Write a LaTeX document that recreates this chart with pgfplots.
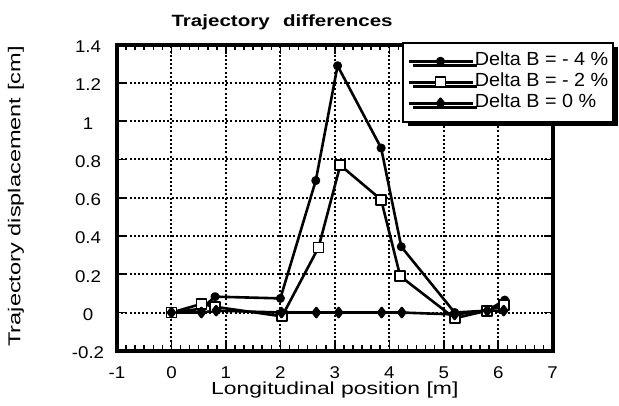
\documentclass[border=0pt]{standalone}
\usepackage{fontspec}
\usepackage{graphicx}
\setmainfont{Liberation Sans}
\newfontfamily\tickfont{Liberation Sans}[FakeStretch=1.1]
\newfontfamily\xlabfont{Liberation Sans}[FakeStretch=1.31]
\newfontfamily\ylabfont{Liberation Sans}[FakeStretch=1.37]
\newfontfamily\legfont{Liberation Sans}[FakeStretch=1.04]
\usepackage{pgfplots}
\pgfplotsset{compat=1.18}
\usetikzlibrary{shadows}
\begin{document}
\begin{tikzpicture}
\begin{axis}[
  at={(0,0)}, anchor=south west,
  scale only axis, width=435.7pt, height=306.1pt,
  xmin=-1, xmax=7, ymin=-0.2, ymax=1.4,
  xtick={-1,0,...,7}, ytick={-0.2,0,0.2,...,1.41},
  minor x tick num=5, minor y tick num=4,
  /pgf/number format/assume math mode=true,
  tick label style={font=\fontsize{17pt}{19pt}\tickfont},
  xticklabel style={anchor=base, yshift=-27.5pt},
  yticklabel style={anchor=center, xshift=-29pt, yshift=-2pt},
  major tick length=9pt, minor tick length=5.5pt,
  every tick/.style={black, line width=1.6pt},
  axis line style={line width=3.8pt},
  grid=major,
  major grid style={black, line width=2pt, dash pattern=on 2pt off 2.2pt},
  xlabel={Longitudinal position [m]},
  xlabel style={font=\fontsize{17.5pt}{20pt}\xlabfont, at={(axis description cs:0.5,-0.142)}, anchor=base},
  ylabel={Trajectory displacement [cm]},
  ylabel style={font=\fontsize{17.2pt}{20pt}\ylabfont, at={(axis description cs:-0.232,0.504)}, anchor=center},
  legend style={
    at={(axis description cs:1.1407,1.0088)}, anchor=north east,
    draw=black, line width=1.5pt, fill=white,
    drop shadow={shadow xshift=4.5pt, shadow yshift=-4.5pt, fill=black, opacity=1},
    inner xsep=4pt, inner ysep=9pt, row sep=2pt,
    font=\fontsize{19pt}{21pt}\legfont,
    nodes={inner xsep=1pt, inner ysep=1pt, text height=13pt, text depth=4pt},
    cells={anchor=west},
  },
  legend image code/.code={\draw[mark repeat=2,mark phase=2,#1] plot coordinates {(0pt,0pt) (32pt,0pt) (64pt,0pt)};},
]
\addplot[black, line width=2.6pt, line join=round, mark=*, mark size=3.2pt] coordinates {
  (0,0) (0.55,0.02) (0.8,0.083) (2.0,0.074) (2.65,0.69) (3.05,1.29) (3.85,0.86) (4.22,0.344) (5.2,0.0) (5.8,0.01) (6.12,0.065)
};
\addlegendentry{Delta B = - 4 \%}
\addplot[black, line width=2.6pt, line join=round, mark=square*, mark size=5pt, mark options={fill=white, line width=1.8pt}] coordinates {
  (0,0) (0.55,0.045) (0.8,0.03) (2.03,-0.02) (2.7,0.34) (3.1,0.77) (3.85,0.59) (4.2,0.19) (5.2,-0.03) (5.8,0.01) (6.1,0.04)
};
\addlegendentry{Delta B = - 2 \%}
\addplot[black, line width=2.6pt, line join=round, mark=diamond*, mark size=4.5pt] coordinates {
  (0,0) (0.55,0) (0.82,0.01) (2.02,0) (2.66,0) (3.07,0) (3.86,0) (4.23,0) (5.2,-0.01) (5.8,0.01) (6.1,0.01)
};
\addlegendentry{Delta B = 0 \%}
\end{axis}
\node[anchor=base, inner sep=0pt] at (165.1pt,324.1pt) {\scalebox{1.26}[1]{\fontsize{16.3pt}{18pt}\selectfont\bfseries Trajectory\hspace{0.65em}differences}};
\pgfresetboundingbox
\path (-117pt,-54.2pt) rectangle (502pt,350.8pt);
\end{tikzpicture}
\end{document}
